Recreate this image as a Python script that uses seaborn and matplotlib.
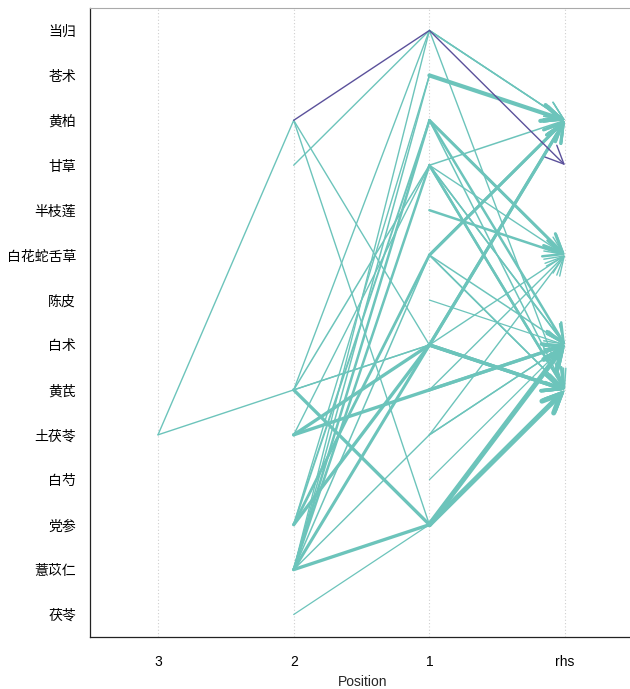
import matplotlib
matplotlib.use("Agg")
import matplotlib.pyplot as plt
import seaborn as sns
import pandas as pd

# items on the y axis, top to bottom
items = ["当归", "苍术", "黄柏", "甘草", "半枝莲", "白花蛇舌草", "陈皮",
         "白术", "黄芪", "土茯苓", "白芍", "党参", "薏苡仁", "茯苓"]
position_labels = ["3", "2", "1", "rhs"]

# rules: lhs items (leftmost first), rhs item, line width, highlighted rule
rule_lhs = [
    ["当归"], ["苍术"], ["黄柏"], ["黄柏"], ["甘草"], ["甘草"], ["甘草"],
    ["半枝莲"], ["白花蛇舌草"], ["白花蛇舌草"], ["白花蛇舌草"], ["陈皮"],
    ["白术"], ["白术"], ["黄芪"], ["黄芪"], ["土茯苓"], ["土茯苓"], ["白芍"],
    ["党参"], ["党参"],
    ["甘草", "当归"], ["薏苡仁", "当归"], ["黄芪", "当归"], ["薏苡仁", "苍术"],
    ["党参", "苍术"], ["薏苡仁", "黄柏"], ["党参", "黄柏"], ["薏苡仁", "甘草"],
    ["黄芪", "甘草"], ["土茯苓", "甘草"], ["党参", "白花蛇舌草"],
    ["薏苡仁", "白花蛇舌草"], ["黄芪", "白术"], ["土茯苓", "白术"],
    ["土茯苓", "黄芪"], ["薏苡仁", "白术"], ["党参", "白术"], ["黄柏", "白术"],
    ["黄芪", "党参"], ["薏苡仁", "党参"], ["茯苓", "党参"], ["薏苡仁", "土茯苓"],
    ["土茯苓", "黄柏", "党参"], ["土茯苓", "黄芪", "白术"],
    ["黄柏", "当归"],
]
rule_rhs = [
    "黄芪", "黄柏", "白花蛇舌草", "黄芪", "黄柏", "白术", "黄芪",
    "白花蛇舌草", "黄柏", "白术", "黄芪", "白术",
    "黄芪", "黄柏", "白术", "白花蛇舌草", "白术", "白花蛇舌草", "白术",
    "白术", "黄芪",
    "黄柏", "黄柏", "黄柏", "黄柏",
    "黄柏", "白术", "白花蛇舌草", "黄芪",
    "白术", "白花蛇舌草", "黄柏",
    "黄芪", "白花蛇舌草", "黄芪",
    "白术", "黄柏", "黄芪", "黄芪",
    "白术", "黄芪", "白术", "白术",
    "黄芪", "黄柏",
    "甘草",
]
rule_width = [
    1.0, 3.0, 2.2, 1.1, 1.1, 1.1, 1.8,
    1.8, 2.2, 1.1, 1.1, 0.9,
    2.6, 2.2, 2.2, 1.0, 1.0, 1.0, 0.9,
    3.6, 3.6,
    1.0, 1.0, 1.0, 1.1,
    1.0, 1.8, 1.4, 1.8,
    1.1, 1.0, 2.0,
    1.1, 1.0, 2.4,
    2.4, 2.2, 2.4, 1.0,
    2.4, 2.4, 0.9, 1.0,
    1.0, 1.0,
    1.0,
]
rule_highlight = [False] * 45 + [True]

teal = "#6cc4bb"
dark = "#5b519b"

sns.set_theme(style="white")
plt.rcParams["font.family"] = ["Liberation Sans", "Noto Sans CJK SC", "DejaVu Sans"]

fig = plt.figure(figsize=(6.3, 6.89), dpi=100)
ax = fig.add_axes([90 / 630, 52 / 689, 545 / 630, 629 / 689])

ypos = {name: i for i, name in enumerate(items)}

# dotted guides at each position
for x in range(1, 5):
    ax.axvline(x, color="#cfcfcf", linestyle=(0, (1, 2)), linewidth=0.8, zorder=0)

order = sorted(range(len(rule_lhs)), key=lambda i: rule_highlight[i])
for i in order:
    lhs = rule_lhs[i]
    col = dark if rule_highlight[i] else teal
    lw = rule_width[i]
    xs = [4 - len(lhs) + k for k in range(len(lhs))]
    ys = [ypos[n] for n in lhs]
    if len(lhs) > 1:
        df = pd.DataFrame({"x": xs, "y": ys})
        sns.lineplot(data=df, x="x", y="y", sort=False, estimator=None,
                     color=col, linewidth=lw, ax=ax,
                     solid_capstyle="round", solid_joinstyle="round")
    ax.annotate("", xy=(4, ypos[rule_rhs[i]]), xytext=(3, ys[-1]),
                arrowprops=dict(arrowstyle="->,head_length=1.1,head_width=0.5",
                                color=col, lw=lw, shrinkA=0, shrinkB=0,
                                mutation_scale=12, capstyle="round"))

ax.set_xlim(0.499, 4.515)
ax.set_ylim(13.5, -0.5)
ax.set_xticks(range(1, 5))
ax.set_xticklabels(position_labels, fontsize=10)
ax.set_yticks(range(len(items)))
ax.set_yticklabels(items, fontsize=10)
ax.set_xlabel("Position", fontsize=10, labelpad=4)
ax.set_ylabel("")
ax.tick_params(axis="x", direction="out", length=6, width=0.8, pad=7, colors="#222222")
ax.tick_params(axis="y", direction="out", length=5, width=0.8, pad=5, colors="#222222")
ax.tick_params(labelcolor="black")

for side in ["left", "bottom"]:
    ax.spines[side].set_color("#222222")
    ax.spines[side].set_linewidth(0.9)
ax.spines["top"].set_color("#aaaaaa")
ax.spines["top"].set_linewidth(0.8)
ax.spines["right"].set_visible(False)

fig.savefig("out.png", dpi=100)
